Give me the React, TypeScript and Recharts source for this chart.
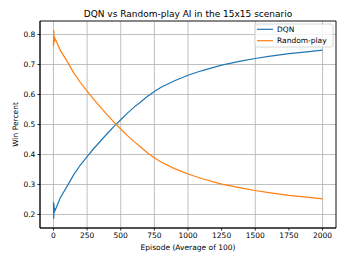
import React from 'react';
import { LineChart, Line, XAxis, YAxis, CartesianGrid, ReferenceArea } from 'recharts';

const episodes = [0, 2, 4, 6, 8, 12, 20, 50, 100, 150, 200, 250, 300, 350, 400, 450, 500, 550, 600, 650, 700, 750, 800, 900, 1000, 1100, 1250, 1400, 1500, 1600, 1750, 1900, 2000];
const dqn = [0.242, 0.186, 0.235, 0.205, 0.222, 0.214, 0.222, 0.255, 0.293, 0.332, 0.365, 0.393, 0.42, 0.445, 0.47, 0.494, 0.516, 0.538, 0.558, 0.576, 0.594, 0.61, 0.624, 0.646, 0.664, 0.679, 0.698, 0.712, 0.72, 0.727, 0.736, 0.743, 0.748];
const randomPlay = [0.76, 0.815, 0.77, 0.795, 0.778, 0.786, 0.778, 0.748, 0.712, 0.673, 0.64, 0.611, 0.584, 0.557, 0.532, 0.508, 0.485, 0.463, 0.443, 0.424, 0.405, 0.389, 0.375, 0.353, 0.335, 0.32, 0.301, 0.288, 0.28, 0.273, 0.264, 0.257, 0.252];
const xTicks = [0, 250, 500, 750, 1000, 1250, 1500, 1750, 2000];
const yTicks = [0.2, 0.3, 0.4, 0.5, 0.6, 0.7, 0.8];
const seriesNames = ['DQN', 'Random-play'];
const colors = ['#1f77b4', '#ff7f0e'];

const data = episodes.map((e, i) => ({ episode: e, dqn: dqn[i], random: randomPlay[i] }));

const FONT = '"DejaVu Sans", sans-serif';
const X_DOMAIN: [number, number] = [-100, 2100];
const Y_DOMAIN: [number, number] = [0.155, 0.845];

export default function App() {
  return (
    <div style={{ position: 'absolute', left: 0, top: 0, width: 346, height: 260, background: '#fff' }}>
      <LineChart width={346} height={260} data={data} margin={{ top: 21, right: 10, bottom: 2, left: 0 }}>
        <CartesianGrid stroke="#b0b0b0" strokeWidth={0.8} horizontal vertical />
        <XAxis
          dataKey="episode"
          type="number"
          domain={X_DOMAIN}
          ticks={xTicks}
          height={30}
          tickSize={2.6}
          tickMargin={2}
          stroke="#000"
          tick={{ fontSize: 7.5, fontFamily: FONT, fill: '#000' }}
          tickLine={{ stroke: '#000', strokeWidth: 0.8 }}
          axisLine={{ stroke: '#000', strokeWidth: 0.8 }}
          allowDataOverflow
        />
        <YAxis
          type="number"
          domain={Y_DOMAIN}
          ticks={yTicks}
          width={40}
          tickSize={2.6}
          tickMargin={2}
          stroke="#000"
          tick={{ fontSize: 7.5, fontFamily: FONT, fill: '#000' }}
          tickLine={{ stroke: '#000', strokeWidth: 0.8 }}
          axisLine={{ stroke: '#000', strokeWidth: 0.8 }}
          tickFormatter={(v: number) => v.toFixed(1)}
          allowDataOverflow
        />
        <Line type="linear" dataKey="dqn" name={seriesNames[0]} stroke={colors[0]} strokeWidth={1.2} dot={false} isAnimationActive={false} />
        <Line type="linear" dataKey="random" name={seriesNames[1]} stroke={colors[1]} strokeWidth={1.2} dot={false} isAnimationActive={false} />
        <ReferenceArea x1={X_DOMAIN[0]} x2={X_DOMAIN[1]} y1={Y_DOMAIN[0]} y2={Y_DOMAIN[1]} fill="none" stroke="#000" strokeWidth={0.8} fillOpacity={0} />
      </LineChart>
      <svg width={346} height={260} style={{ position: 'absolute', left: 0, top: 0, pointerEvents: 'none' }}>
        <text x={188} y={16.5} textAnchor="middle" fontSize={9} fontFamily={FONT} fill="#000">DQN vs Random-play AI in the 15x15 scenario</text>
        <text x={188} y={249.5} textAnchor="middle" fontSize={7.5} fontFamily={FONT} fill="#000">Episode (Average of 100)</text>
        <text transform="translate(17.5,124.5) rotate(-90)" textAnchor="middle" fontSize={7.5} fontFamily={FONT} fill="#000">Win Percent</text>
        <g transform="translate(254.5,23.5)">
          <rect x={0.5} y={0.5} width={78} height={23} rx={2} ry={2} fill="rgba(255,255,255,0.8)" stroke="#cccccc" strokeWidth={0.8} />
          {seriesNames.map((n, i) => (
            <g key={n}>
              <line x1={2.5} x2={18.5} y1={5.8 + i * 11.4} y2={5.8 + i * 11.4} stroke={colors[i]} strokeWidth={1.2} />
              <text x={22.5} y={5.8 + i * 11.4} dy="0.35em" fontSize={7.5} fontFamily={FONT} fill="#000">{n}</text>
            </g>
          ))}
        </g>
      </svg>
    </div>
  );
}
